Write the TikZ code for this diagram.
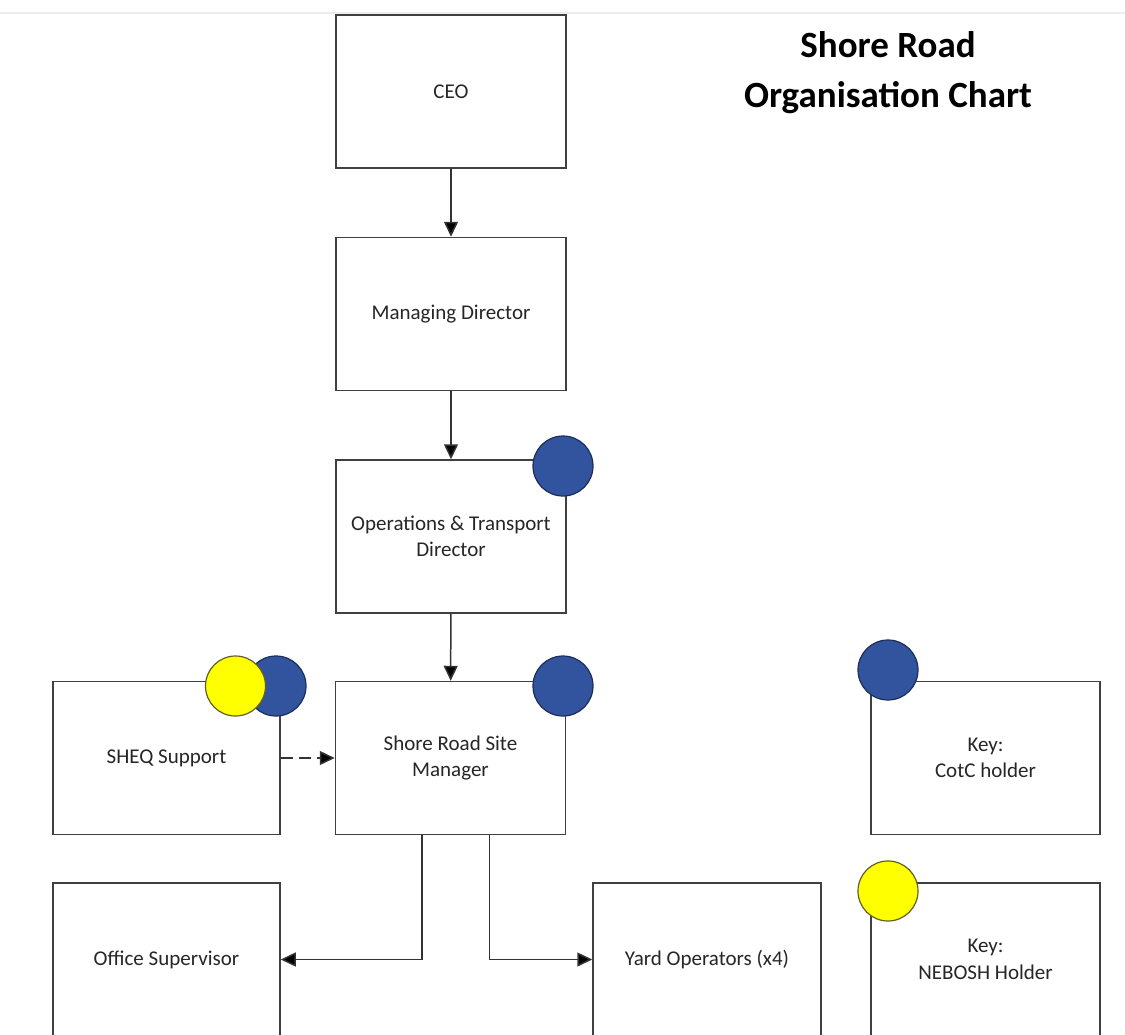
\documentclass[tikz,border=0pt]{standalone}
\usepackage{fontspec}
\setmainfont{Carlito}
\usepackage{tikz}
\usetikzlibrary{arrows.meta}
\definecolor{cotcblue}{RGB}{50,84,158}
\definecolor{neboshyellow}{RGB}{255,255,0}

\tikzset{
  role/.style={draw=black!75, line width=1.5pt, fill=white, minimum width=230pt, minimum height=153pt,
    inner sep=0pt, align=center, text=black!85, font=\fontsize{21}{26.5}\selectfont},
  link/.style={draw=black!80, line width=1.5pt, -{Triangle[length=15pt,width=14pt,fill=black]}},
  cotc/.style={circle, draw=cotcblue!55!black, fill=cotcblue, line width=1.2pt, minimum size=60pt, inner sep=0pt},
  nebosh/.style={circle, draw=olive!60!black, fill=neboshyellow, line width=1.2pt, minimum size=60pt, inner sep=0pt},
}

\begin{document}
\begin{tikzpicture}[x=1pt, y=-1pt]
    \useasboundingbox (0,0) rectangle (1125,1034);
    \clip (0,0) rectangle (1125,1034);
    % 顶部细线
    \draw[black!7, line width=2.5pt] (0,13) -- (1125,13);

    % 标题
    \node[font=\fontsize{37}{50}\selectfont\bfseries, align=center] (title) at (888,73) {Shore Road\\Organisation Chart};

    % 中间一列
    \node[role] (ceo) at (451,91.5) {CEO};
    \node[role] (md) at (451,314) {Managing Director};
    \node[role] (ops) at (451,536.5) {Operations \& Transport\\Director};
    \node[role] (site) at (450.5,758) {Shore Road Site\\Manager};

    % 两侧与下方
    \node[role, minimum width=227pt] (sheq) at (166.5,758) {SHEQ Support};
    \node[role, minimum width=227pt] (office) at (166.5,959.5) {Office Supervisor};
    \node[role, minimum width=228pt] (yard) at (707,959.5) {Yard Operators (x4)};
    \node[role, minimum width=229pt] (keycotc) at (985.5,758) {Key:\\CotC holder};
    \node[role, minimum width=229pt] (keynebosh) at (985.5,959.5) {Key:\\NEBOSH Holder};

    % 连线
    \draw[link] (ceo) -- (md);
    \draw[link] (md) -- (ops);
    \draw[link] (ops) -- (site);
    \draw[link, dash pattern=on 12pt off 6pt] (sheq) -- (site);
    \draw[link] ([xshift=-28.5pt]site.south) |- (office.east);
    \draw[link] ([xshift=39pt]site.south) |- (yard.west);

    % 圆点标记
    \node[cotc] (opsdot) at (563,466) {};
    \node[cotc] (sitedot) at (563,686) {};
    \node[cotc] (sheqblue) at (276,686) {};
    \node[nebosh] (sheqyellow) at (235.5,686) {};
    \node[cotc] (cotcdot) at (888,670) {};
    \node[nebosh] (neboshdot) at (888,891) {};

\end{tikzpicture}
\end{document}
